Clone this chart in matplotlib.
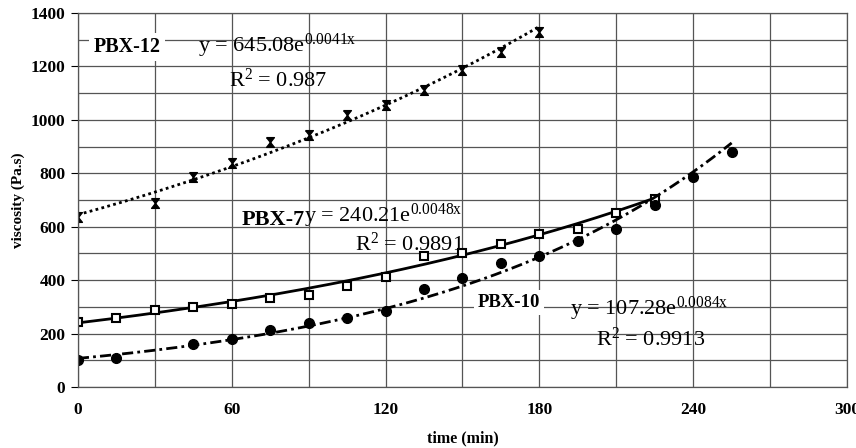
import numpy as np
import matplotlib
matplotlib.use("Agg")
import matplotlib.pyplot as plt

plt.rcParams['font.family'] = ['Liberation Serif', 'DejaVu Serif']
plt.rcParams['mathtext.fontset'] = 'custom'
plt.rcParams['mathtext.rm'] = 'Liberation Serif'
plt.rcParams['mathtext.it'] = 'Liberation Serif'

# PBX-12 (hourglass markers)
t12 = [0, 30, 45, 60, 75, 90, 105, 120, 135, 150, 165, 180]
v12 = [635, 690, 785, 838, 918, 945, 1020, 1055, 1112, 1185, 1255, 1330]

# PBX-7 (open squares)
t7 = [0, 15, 30, 45, 60, 75, 90, 105, 120, 135, 150, 165, 180, 195, 210, 225]
v7 = [243, 258, 290, 300, 310, 333, 345, 380, 412, 492, 502, 535, 573, 590, 653, 705]

# PBX-10 (filled circles)
t10 = [0, 15, 45, 60, 75, 90, 105, 120, 135, 150, 165, 180, 195, 210, 225, 240, 255]
v10 = [103, 108, 163, 180, 213, 240, 260, 283, 367, 410, 465, 492, 545, 593, 680, 785, 880]

# exponential trend lines as printed on the chart: y = a * exp(b x)
fit12 = (645.08, 0.0041, 180)
fit7 = (240.21, 0.0048, 225)
fit10 = (107.28, 0.0084, 255)

fig = plt.figure(figsize=(8.56, 4.48), dpi=100)
ax = fig.add_axes([0.091, 0.136, 0.8985, 0.835])

hourglass = [(-0.8, 1), (0.8, 1), (-0.8, -1), (0.8, -1), (-0.8, 1)]

def trend(a, b, tmax):
    x = np.linspace(0, tmax, 200)
    return x, a * np.exp(b * x)

x, y = trend(*fit12)
ax.plot(x, y, color='black', lw=2, linestyle=(0, (1, 1.2)))
ax.plot(t12, v12, linestyle='none', marker=hourglass, ms=7, color='black')

x, y = trend(*fit7)
ax.plot(x, y, color='black', lw=2)
ax.plot(t7, v7, linestyle='none', marker='s', ms=6, mfc='white', mec='black', mew=1.5)

x, y = trend(*fit10)
ax.plot(x, y, color='black', lw=2, linestyle=(0, (4, 1.5, 1, 1.5)))
ax.plot(t10, v10, linestyle='none', marker='o', ms=7, color='black')

ax.set_xlim(0, 300)
ax.set_ylim(0, 1400)
ax.set_xticks(range(0, 301, 60))
ax.set_yticks(range(0, 1401, 200))
ax.set_xticks(range(0, 301, 30), minor=True)
ax.set_yticks(range(0, 1401, 100), minor=True)
ax.grid(True, which='both', color='#555555', lw=0.9)
ax.set_axisbelow(True)
ax.tick_params(which='minor', length=0)
ax.tick_params(axis='y', which='major', direction='out', length=5, pad=4)
ax.tick_params(axis='x', which='major', direction='out', length=0, pad=11)
for lab in ax.get_xticklabels() + ax.get_yticklabels():
    lab.set_fontweight('bold')
    lab.set_fontsize(12.5)
for s in ax.spines.values():
    s.set_color('#555555')
    s.set_linewidth(0.9)

ax.set_xlabel('time (min)', fontweight='bold', fontsize=11.5, labelpad=9)
ax.set_ylabel('viscosity (Pa.s)', fontweight='bold', fontsize=11, labelpad=4)

box = dict(facecolor='white', edgecolor='none', pad=3)
eq = dict(fontsize=16)
ax.text(6, 1255, 'PBX-12', fontweight='bold', fontsize=14.5, bbox=box)
ax.text(47, 1255, r'y = 645.08e$^{\mathregular{0.0041x}}$', **eq)
ax.text(59, 1125, r'R$^{\mathregular{2}}$ = 0.987', **eq)
ax.text(64, 605, 'PBX-7', fontweight='bold', fontsize=16)
ax.text(88, 620, r'y = 240.21e$^{\mathregular{0.0048x}}$', **eq)
ax.text(108, 510, r'R$^{\mathregular{2}}$ = 0.9891', **eq)
ax.text(156, 300, 'PBX-10', fontweight='bold', fontsize=13.5, bbox=box)
ax.text(192, 272, r'y = 107.28e$^{\mathregular{0.0084x}}$', **eq)
ax.text(202, 155, r'R$^{\mathregular{2}}$ = 0.9913', **eq)

plt.savefig('out.png', dpi=100)
